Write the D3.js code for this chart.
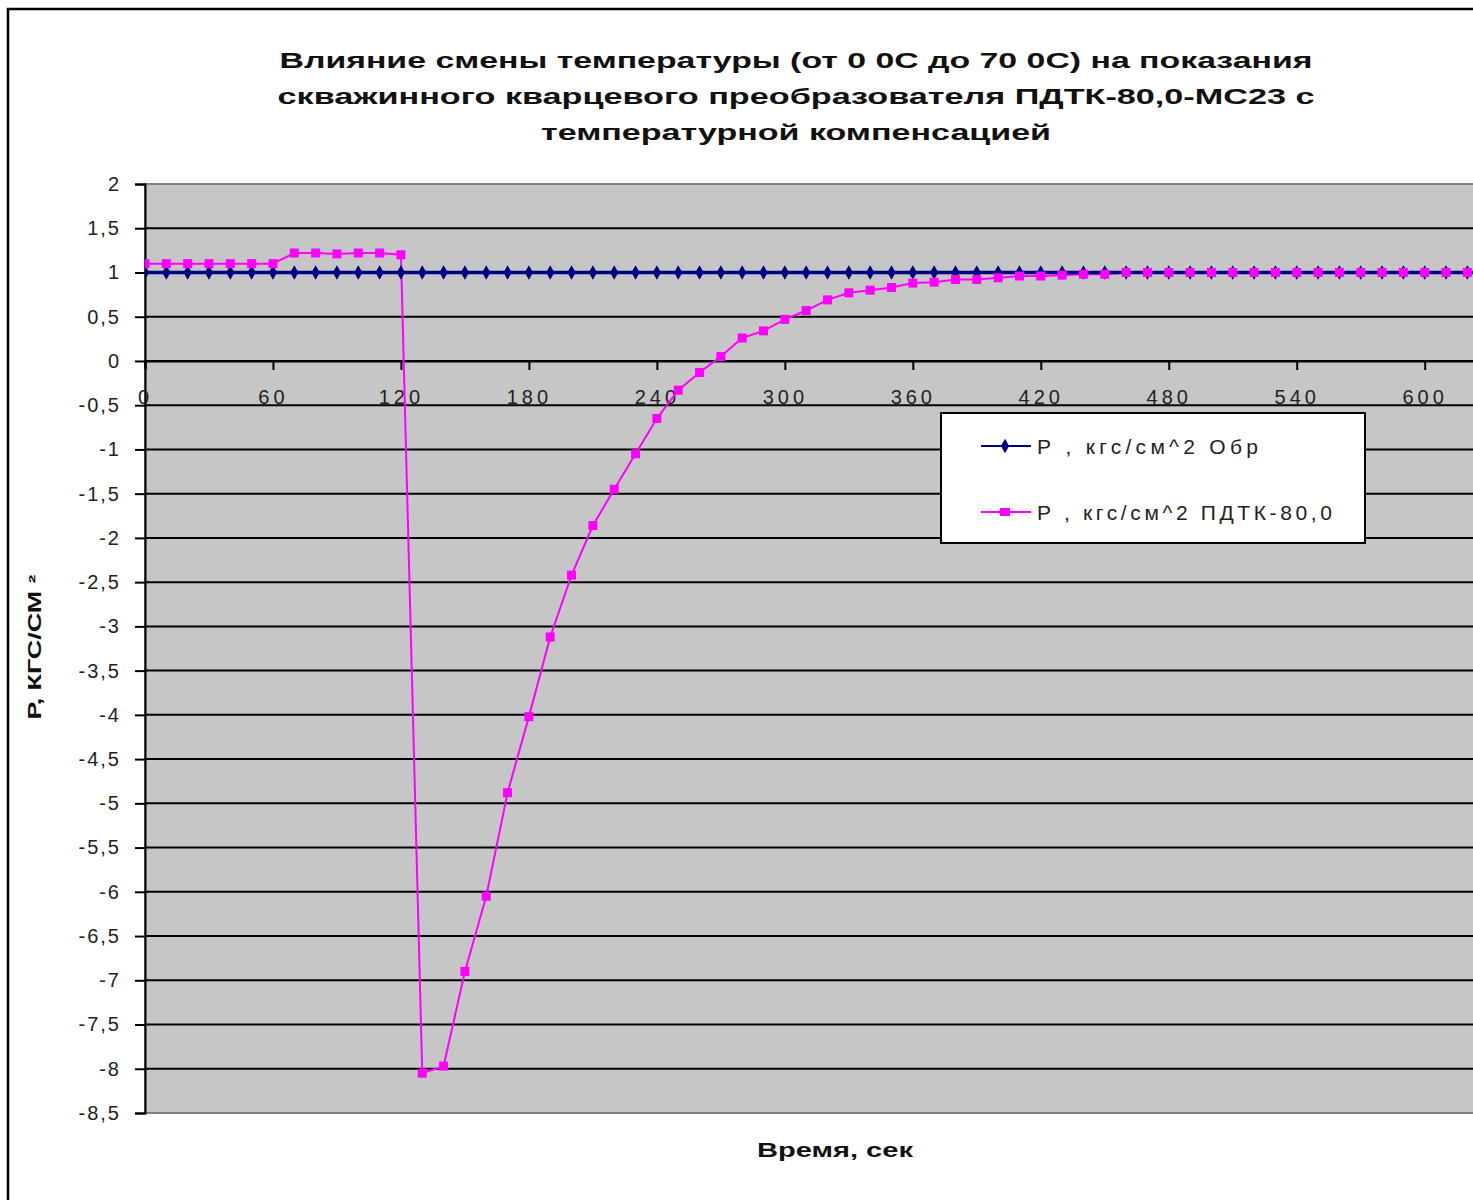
<!DOCTYPE html>
<html>
<head>
<meta charset="utf-8">
<script src="https://cdn.jsdelivr.net/npm/d3@7"></script>
<style>
  html, body { margin: 0; padding: 0; background: #fff; overflow: hidden; }
  svg { display: block; font-family: "Liberation Sans", Arial, sans-serif; }
</style>
</head>
<body>
<svg id="chart" width="1473" height="1200"></svg>
<script>
// time, sec (one point every 10 s)
var times = [0, 10, 20, 30, 40, 50, 60, 70, 80, 90, 100, 110, 120, 130, 140, 150, 160, 170, 180, 190,
    200, 210, 220, 230, 240, 250, 260, 270, 280, 290, 300, 310, 320, 330, 340, 350, 360, 370, 380, 390,
    400, 410, 420, 430, 440, 450, 460, 470, 480, 490, 500, 510, 520, 530, 540, 550, 560, 570, 580, 590,
    600, 610, 620, 630, 640];

// P, kgf/cm^2 reference gauge
var pObr = [1, 1, 1, 1, 1, 1, 1, 1, 1, 1, 1, 1, 1, 1, 1, 1, 1, 1, 1, 1,
    1, 1, 1, 1, 1, 1, 1, 1, 1, 1, 1, 1, 1, 1, 1, 1, 1, 1, 1, 1,
    1, 1, 1, 1, 1, 1, 1, 1, 1, 1, 1, 1, 1, 1, 1, 1, 1, 1, 1, 1,
    1, 1, 1, 1, 1];

// P, kgf/cm^2 PDTK-80,0
var pPdtk = [1.1, 1.1, 1.1, 1.1, 1.1, 1.1, 1.1, 1.22, 1.22, 1.21, 1.22, 1.22, 1.2, -8.05, -7.97, -6.9, -6.05, -4.88, -4.02, -3.12,
    -2.42, -1.86, -1.45, -1.05, -0.65, -0.33, -0.13, 0.05, 0.26, 0.34, 0.47, 0.57, 0.69, 0.77, 0.8, 0.83, 0.88, 0.89, 0.92, 0.92,
    0.94, 0.96, 0.96, 0.97, 0.98, 0.98, 1, 1, 1, 1, 1, 1, 1, 1, 1, 1, 1, 1, 1, 1,
    1, 1, 1, 1, 1];

var xTicks = [0, 60, 120, 180, 240, 300, 360, 420, 480, 540, 600];
var yTicks = [2, 1.5, 1, 0.5, 0, -0.5, -1, -1.5, -2, -2.5, -3, -3.5, -4, -4.5, -5, -5.5, -6, -6.5, -7, -7.5, -8, -8.5];

var titleLines = [
    "Влияние смены температуры (от 0 0С до 70 0С) на показания",
    "скважинного кварцевого  преобразователя ПДТК-80,0-МС23 с",
    "температурной компенсацией"
];
var seriesNames = ["Р , кгс/см^2  Обр", "Р , кгс/см^2 ПДТК-80,0"];

var svg = d3.select("#chart");
var plotLeft = 145, plotTop = 184, plotBottom = 1113, plotRight = 1510;

var x = d3.scaleLinear().domain([0, 640]).range([plotLeft, plotRight]);
var y = d3.scaleLinear().domain([-8.5, 2]).range([plotBottom, plotTop]);
var fmt = function (d) { return String(d).replace(".", ","); };

// outer chart border
svg.append("rect")
    .attr("x", 8).attr("y", 9)
    .attr("width", 1600).attr("height", 1400)
    .style("fill", "#fff")
    .style("stroke", "#000")
    .style("stroke-width", 2.5);

// title
var titleWidths = [1033, 1037, 510];
titleLines.forEach(function (t, i) {
    svg.append("text")
        .attr("x", 796)
        .attr("y", 68 + i * 36)
        .attr("text-anchor", "middle")
        .attr("textLength", titleWidths[i])
        .attr("lengthAdjust", "spacingAndGlyphs")
        .style("font-size", "22px")
        .style("font-weight", "bold")
        .style("fill", "#111")
        .text(t);
});

// plot area
svg.append("clipPath").attr("id", "plot-clip")
    .append("rect")
    .attr("x", plotLeft).attr("y", plotTop - 10)
    .attr("width", plotRight - plotLeft).attr("height", plotBottom - plotTop + 10);

svg.append("rect")
    .attr("x", plotLeft).attr("y", plotTop)
    .attr("width", plotRight - plotLeft).attr("height", plotBottom - plotTop)
    .style("fill", "#c6c6c6")
    .style("stroke", "#808080")
    .style("stroke-width", 2);

// gridlines
svg.append("g")
    .selectAll("line")
    .data(yTicks.filter(function (d) { return d < 2 && d > -8.5; }))
    .enter()
    .append("line")
    .attr("x1", plotLeft).attr("x2", plotRight)
    .attr("y1", function (d) { return y(d); })
    .attr("y2", function (d) { return y(d); })
    .style("stroke", "#000")
    .style("stroke-width", 2);

// y axis
var yAxis = svg.append("g")
    .attr("transform", "translate(" + plotLeft + ",0)")
    .call(d3.axisLeft(y).tickValues(yTicks).tickSize(10).tickPadding(14).tickFormat(fmt));
yAxis.select(".domain").style("stroke", "#000").style("stroke-width", 2);
yAxis.selectAll(".tick line").style("stroke", "#000").style("stroke-width", 2);
yAxis.selectAll(".tick text")
    .style("font-size", "20px")
    .style("letter-spacing", "2px")
    .style("fill", "#222")
    .style("font-family", "Liberation Sans, Arial, sans-serif");

// x axis at y = 0
var xAxis = svg.append("g")
    .attr("transform", "translate(0," + y(0) + ")")
    .call(d3.axisBottom(x).tickValues(xTicks).tickSize(9).tickPadding(20));
xAxis.select(".domain").style("stroke", "#000").style("stroke-width", 2);
xAxis.selectAll(".tick line").style("stroke", "#000").style("stroke-width", 2);
xAxis.selectAll(".tick text")
    .style("font-size", "20px")
    .style("letter-spacing", "4px")
    .style("fill", "#222")
    .style("font-family", "Liberation Sans, Arial, sans-serif");

// axis titles
svg.append("text")
    .attr("text-anchor", "middle")
    .attr("transform", "translate(41,647)rotate(-90)")
    .attr("textLength", 145)
    .attr("lengthAdjust", "spacingAndGlyphs")
    .style("font-size", "18px")
    .style("font-weight", "bold")
    .style("fill", "#111")
    .text("Р, КГС/СМ ²");

svg.append("text")
    .attr("x", 835)
    .attr("y", 1157)
    .attr("text-anchor", "middle")
    .attr("textLength", 156)
    .attr("lengthAdjust", "spacingAndGlyphs")
    .style("font-size", "20px")
    .style("font-weight", "bold")
    .style("fill", "#111")
    .text("Время, сек");

// series
var obrData = times.map(function (t, i) { return [t, pObr[i]]; });
var pdtkData = times.map(function (t, i) { return [t, pPdtk[i]]; });

var plot = svg.append("g").attr("clip-path", "url(#plot-clip)");

var line = d3.line()
    .x(function (d) { return x(d[0]); })
    .y(function (d) { return y(d[1]); });

plot.append("path")
    .datum(pdtkData)
    .attr("d", line)
    .style("fill", "none")
    .style("stroke", "#ff00ff")
    .style("stroke-width", 2);

plot.append("path")
    .datum(obrData)
    .attr("d", line)
    .style("fill", "none")
    .style("stroke", "#000080")
    .style("stroke-width", 3.5);

plot.append("g")
    .selectAll("path")
    .data(obrData)
    .enter()
    .append("path")
    .attr("d", d3.symbol().type(d3.symbolDiamond).size(60))
    .attr("transform", function (d) { return "translate(" + x(d[0]) + "," + y(d[1]) + ")"; })
    .style("fill", "#000080");

plot.append("g")
    .selectAll("rect")
    .data(pdtkData)
    .enter()
    .append("rect")
    .attr("x", function (d) { return x(d[0]) - 4.5; })
    .attr("y", function (d) { return y(d[1]) - 4.5; })
    .attr("width", 9)
    .attr("height", 9)
    .style("fill", "#ff00ff");

// legend
var legend = svg.append("g").attr("transform", "translate(941,413)");
legend.append("rect")
    .attr("width", 424).attr("height", 130)
    .style("fill", "#fff")
    .style("stroke", "#000")
    .style("stroke-width", 2);

var rowY = [33, 99];
var rowColor = ["#000080", "#ff00ff"];
var rowWidth = [221, 295];
seriesNames.forEach(function (name, i) {
    legend.append("line")
        .attr("x1", 40).attr("x2", 90)
        .attr("y1", rowY[i]).attr("y2", rowY[i])
        .style("stroke", rowColor[i])
        .style("stroke-width", 2);
    if (i === 0) {
        legend.append("path")
            .attr("d", d3.symbol().type(d3.symbolDiamond).size(60))
            .attr("transform", "translate(64," + rowY[i] + ")")
            .style("fill", rowColor[i]);
    } else {
        legend.append("rect")
            .attr("x", 59).attr("y", rowY[i] - 4)
            .attr("width", 10).attr("height", 8)
            .style("fill", rowColor[i]);
    }
    legend.append("text")
        .attr("x", 96)
        .attr("y", rowY[i] + 8)
        .attr("textLength", rowWidth[i])
        .attr("lengthAdjust", "spacing")
        .style("font-size", "21px")
        .style("fill", "#222")
        .text(name);
});
</script>
</body>
</html>
